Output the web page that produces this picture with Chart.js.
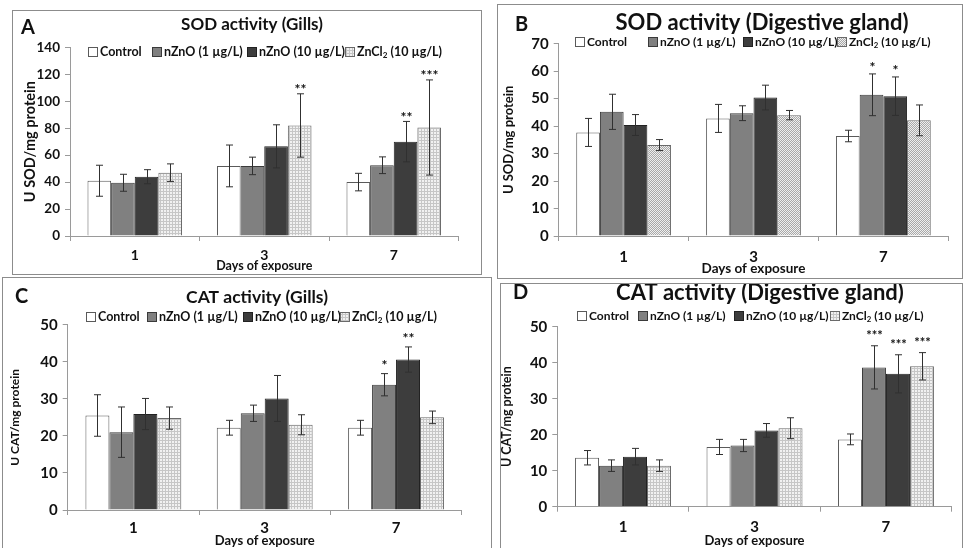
<!DOCTYPE html>
<html>
<head>
<meta charset="utf-8">
<script src="https://cdn.jsdelivr.net/npm/chart.js@4.4.1/dist/chart.umd.min.js"></script>
<style>
  html, body { margin: 0; padding: 0; background: #fff; }
  body { width: 964px; height: 548px; position: relative; overflow: hidden; }
  .frame { position: absolute; border: 1px solid #8c8c8c; box-sizing: border-box; }
  canvas { position: absolute; }
</style>
</head>
<body>
<div class="frame" style="left:12px;top:10px;width:470px;height:265px"></div>
<div class="frame" style="left:497px;top:4px;width:466px;height:275px"></div>
<div class="frame" style="left:2px;top:277px;width:490px;height:280px"></div>
<div class="frame" style="left:500px;top:283px;width:463px;height:280px"></div>
<canvas id="chartA"></canvas>
<canvas id="chartB"></canvas>
<canvas id="chartC"></canvas>
<canvas id="chartD"></canvas>
<script>
const FONT = 'Lato, "Open Sans", sans-serif';

const days = ['1', '3', '7'];
const groups = ['Control', 'nZnO (1 µg/L)', 'nZnO (10 µg/L)', 'ZnCl₂ (10 µg/L)'];

// rows: Control, nZnO 1, nZnO 10, ZnCl2 ; columns: day 1, 3, 7
const sodGillsMean = [[41, 52, 40], [39.5, 52, 52.5], [44, 66.5, 70], [47, 82, 80.5]];
const sodGillsSd = [[11.5, 15.5, 6.5], [6.3, 6.5, 6.2], [5.2, 16, 15], [6.5, 23.5, 35.3]];
const sodGillsStars = [['', '', ''], ['', '', ''], ['', '', '**'], ['', '**', '***']];

const sodGlandMean = [[37.7, 42.8, 36.4], [45.2, 44.7, 51.4], [40.4, 50.4, 50.9], [33.1, 44, 42.1]];
const sodGlandSd = [[5.1, 5.1, 2.1], [6.4, 2.7, 7.6], [3.8, 4.5, 7], [2, 1.7, 5.6]];
const sodGlandStars = [['', '', ''], ['', '', '*'], ['', '', '*'], ['', '', '']];

const catGillsMean = [[25.5, 22.2, 22.2], [21, 26.1, 33.8], [25.9, 30.1, 40.6], [24.8, 23, 25]];
const catGillsSd = [[5.6, 2, 2], [6.8, 2.2, 3], [4.2, 6.2, 3.4], [3, 2.7, 1.7]];
const catGillsStars = [['', '', ''], ['', '', '*'], ['', '', '**'], ['', '', '']];

const catGlandMean = [[13.6, 16.6, 18.7], [11.4, 17, 38.7], [13.9, 21.2, 36.9], [11.4, 21.8, 39]];
const catGlandSd = [[2, 2.1, 1.5], [1.6, 1.7, 6], [2.3, 1.9, 5.3], [1.6, 2.9, 3.8]];
const catGlandStars = [['', '', ''], ['', '', '***'], ['', '', '***'], ['', '', '***']];

// layout of each panel, page coordinates
const panels = [
  { id: 'chartA', letter: 'A', title: 'SOD activity (Gills)', yTitle: 'U SOD/mg protein',
    mean: sodGillsMean, sd: sodGillsSd, stars: sodGillsStars, yMax: 140, yStep: 20,
    canvas: [13, 11, 481, 274], plot: [70, 47.3, 458.5, 236],
    letterPos: [21, 28], letterSize: 20, titlePos: [252, 25], titleSize: 17,
    legendY: 52, legendX: [88, 152, 247, 345], legendSize: 12.5,
    yTickSize: 13.5, xTickSize: 14, xTickY: 255, yTitleX: 30, yTitleSize: 14.5,
    xTitleY: 266, xTitleSize: 12.5, starSize: 14, starGap: 4, pattern: 'grid' },
  { id: 'chartB', letter: 'B', title: 'SOD activity (Digestive gland)', yTitle: 'U SOD/mg protein',
    mean: sodGlandMean, sd: sodGlandSd, stars: sodGlandStars, yMax: 70, yStep: 10,
    canvas: [498, 5, 962, 278], plot: [558.7, 43.7, 948.3, 236],
    letterPos: [515, 25], letterSize: 20, titlePos: [762, 23], titleSize: 22,
    legendY: 42, legendX: [575, 648, 743, 837], legendSize: 12,
    yTickSize: 15, xTickSize: 15, xTickY: 256.7, yTitleX: 509, yTitleSize: 13,
    xTitleY: 269, xTitleSize: 13.5, starSize: 14, starGap: 6, pattern: 'dots' },
  { id: 'chartC', letter: 'C', title: 'CAT activity (Gills)', yTitle: 'U CAT/mg protein',
    mean: catGillsMean, sd: catGillsSd, stars: catGillsStars, yMax: 50, yStep: 10,
    canvas: [3, 278, 491, 556], plot: [67.7, 324.7, 461.7, 510],
    letterPos: [15, 297], letterSize: 20, titlePos: [257, 297], titleSize: 17.5,
    legendY: 316.7, legendX: [86, 147, 243, 340], legendSize: 12.5,
    yTickSize: 15, xTickSize: 15, xTickY: 527.7, yTitleX: 15, yTitleSize: 12,
    xTitleY: 541, xTitleSize: 13, starSize: 14, starGap: 8, pattern: 'grid' },
  { id: 'chartD', letter: 'D', title: 'CAT activity (Digestive gland)', yTitle: 'U CAT/mg protein',
    mean: catGlandMean, sd: catGlandSd, stars: catGlandStars, yMax: 50, yStep: 10,
    canvas: [500, 284, 962, 556], plot: [557.3, 326.7, 951.7, 506.7],
    letterPos: [513, 293], letterSize: 20, titlePos: [760, 293], titleSize: 22,
    legendY: 315.7, legendX: [576.7, 638.3, 734.3, 830], legendSize: 12,
    yTickSize: 15, xTickSize: 15, xTickY: 526.7, yTitleX: 506.7, yTitleSize: 12.5,
    xTitleY: 540.5, xTitleSize: 13, starSize: 13, starGap: 9.5, pattern: 'grid' }
];

function makePattern(ctx, kind) {
  const c = document.createElement('canvas');
  c.width = 3; c.height = 3;
  const g = c.getContext('2d');
  if (kind === 'dots') {
    c.width = 2; c.height = 2;
    g.fillStyle = '#efefef'; g.fillRect(0, 0, 2, 2);
    g.fillStyle = '#a8a8a8';
    g.fillRect(0, 0, 1, 1); g.fillRect(1, 1, 1, 1);
  } else {
    g.fillStyle = '#f1f1f1'; g.fillRect(0, 0, 3, 3);
    g.fillStyle = '#c6c6c6';
    g.fillRect(0, 0, 3, 1); g.fillRect(0, 0, 1, 3);
  }
  return ctx.createPattern(c, 'repeat');
}

function drawLabel(ctx, text, x, y, size) {
  const parts = text.split('₂');
  ctx.font = `bold ${size}px ${FONT}`;
  ctx.fillText(parts[0], x, y);
  if (parts.length > 1) {
    let w = ctx.measureText(parts[0]).width;
    ctx.font = `bold ${size * 0.65}px ${FONT}`;
    ctx.fillText('2', x + w, y + size * 0.28);
    w += ctx.measureText('2').width;
    ctx.font = `bold ${size}px ${FONT}`;
    ctx.fillText(parts[1], x + w, y);
  }
}

// error bars and significance stars
const errorBars = {
  id: 'errorBars',
  afterDatasetsDraw(chart) {
    const ctx = chart.ctx;
    const yScale = chart.scales.y;
    const p = chart.options.plugins.errorBars.panel;
    ctx.save();
    chart.data.datasets.forEach((ds, i) => {
      chart.getDatasetMeta(i).data.forEach((bar, j) => {
        const m = ds.data[j], e = ds.sd[j];
        const top = yScale.getPixelForValue(m + e);
        const bot = yScale.getPixelForValue(m - e);
        const x = Math.round(bar.x) + 0.5;
        ctx.strokeStyle = '#303030';
        ctx.lineWidth = 1;
        ctx.beginPath();
        ctx.moveTo(x, top); ctx.lineTo(x, bot);
        ctx.moveTo(x - 3.5, top); ctx.lineTo(x + 3.5, top);
        ctx.moveTo(x - 3.5, bot); ctx.lineTo(x + 3.5, bot);
        ctx.stroke();
        if (ds.stars[j]) {
          ctx.fillStyle = '#111';
          ctx.font = `bold ${p.starSize}px ${FONT}`;
          ctx.textAlign = 'center';
          ctx.textBaseline = 'middle';
          ctx.fillText(ds.stars[j], x, top - p.starGap);
        }
      });
    });
    ctx.restore();
  }
};

// panel letter, title and legend
const panelText = {
  id: 'panelText',
  afterDraw(chart) {
    const ctx = chart.ctx;
    const p = chart.options.plugins.panelText.panel;
    const ox = p.canvas[0], oy = p.canvas[1];
    ctx.save();
    ctx.fillStyle = '#111';
    ctx.textBaseline = 'middle';
    ctx.textAlign = 'left';
    ctx.font = `bold ${p.letterSize}px ${FONT}`;
    ctx.fillText(p.letter, p.letterPos[0] - ox, p.letterPos[1] - oy);
    ctx.textAlign = 'center';
    ctx.font = `bold ${p.titleSize}px ${FONT}`;
    ctx.fillText(p.title, p.titlePos[0] - ox, p.titlePos[1] - oy);
    ctx.textAlign = 'left';
    const s = 10;
    chart.data.datasets.forEach((ds, i) => {
      const bx = Math.round(p.legendX[i] - ox), by = Math.round(p.legendY - oy - s / 2);
      ctx.fillStyle = ds.backgroundColor;
      ctx.fillRect(bx, by, s, s);
      ctx.strokeStyle = ds.borderColor;
      ctx.lineWidth = 1;
      ctx.strokeRect(bx + 0.5, by + 0.5, s - 1, s - 1);
      ctx.fillStyle = '#111';
      drawLabel(ctx, ds.label, bx + s + 2, p.legendY - oy, p.legendSize);
    });
    ctx.restore();
  }
};

function buildPanel(p) {
  const el = document.getElementById(p.id);
  const [cx0, cy0, cx1, cy1] = p.canvas;
  const [pl, pt, pr, pb] = p.plot;
  el.width = cx1 - cx0;
  el.height = cy1 - cy0;
  el.style.left = cx0 + 'px';
  el.style.top = cy0 + 'px';
  const ctx = el.getContext('2d');
  const fills = ['#ffffff', '#808080', '#3d3d3d', makePattern(ctx, p.pattern)];
  const borders = ['#5a5a5a', '#3a3a3a', '#222222', '#6a6a6a'];
  const tickLen = 5;
  const axisColor = '#9a9a9a';

  new Chart(ctx, {
    type: 'bar',
    data: {
      labels: days,
      datasets: groups.map((g, i) => ({
        label: g,
        data: p.mean[i],
        sd: p.sd[i],
        stars: p.stars[i],
        backgroundColor: fills[i],
        borderColor: borders[i],
        borderWidth: 1,
        borderSkipped: 'start',
        categoryPercentage: 0.73,
        barPercentage: 1
      }))
    },
    options: {
      responsive: false,
      animation: false,
      events: [],
      layout: { padding: { left: 0, top: pt - cy0, right: cx1 - pr, bottom: 0 } },
      plugins: {
        legend: { display: false },
        title: { display: false },
        tooltip: { enabled: false },
        errorBars: { panel: p },
        panelText: { panel: p }
      },
      scales: {
        x: {
          offset: true,
          grid: { display: true, drawOnChartArea: false, drawTicks: true, tickLength: tickLen, color: axisColor, offset: true },
          border: { color: axisColor },
          ticks: {
            color: '#111',
            font: { family: FONT, size: p.xTickSize, weight: 'bold' },
            padding: (p.xTickY - pb) - tickLen - p.xTickSize * 0.6
          },
          title: {
            display: true, text: 'Days of exposure', color: '#111',
            font: { family: FONT, size: p.xTitleSize, weight: 'bold' },
            padding: { top: 0, bottom: (cy1 - p.xTitleY) - p.xTitleSize * 0.6 }
          },
          afterFit: s => { s.height = cy1 - pb; }
        },
        y: {
          min: 0, max: p.yMax,
          grid: { display: true, drawOnChartArea: false, drawTicks: true, tickLength: tickLen, color: axisColor },
          border: { color: axisColor },
          ticks: {
            stepSize: p.yStep, color: '#111', padding: 5,
            font: { family: FONT, size: p.yTickSize, weight: 'bold' }
          },
          title: {
            display: true, text: p.yTitle, color: '#111',
            font: { family: FONT, size: p.yTitleSize, weight: 'bold' },
            padding: { top: (p.yTitleX - cx0) - p.yTitleSize * 0.6, bottom: 0 }
          },
          afterFit: s => { s.width = pl - cx0; }
        }
      }
    },
    plugins: [errorBars, panelText]
  });
}

panels.forEach(buildPanel);
</script>
</body>
</html>
